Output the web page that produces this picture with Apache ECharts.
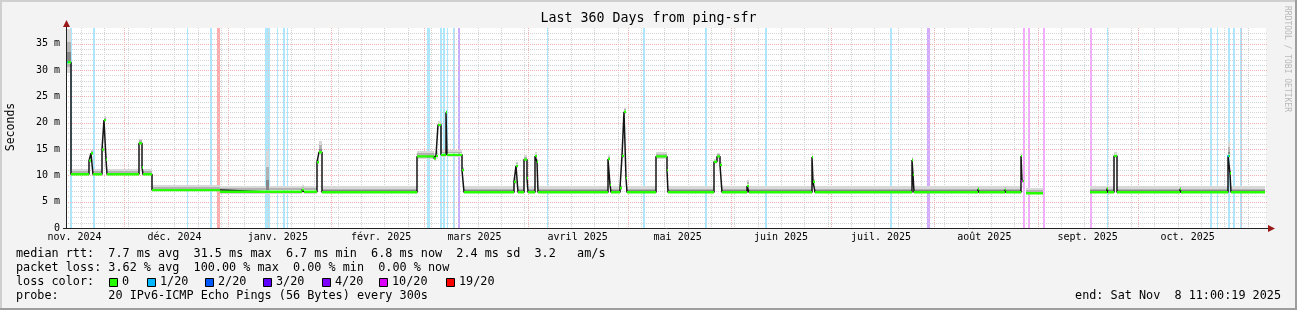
<!DOCTYPE html>
<html><head><meta charset="utf-8">
<script src="https://cdn.jsdelivr.net/npm/echarts@6/dist/echarts.min.js"></script>
<style>html,body{margin:0;padding:0;background:#f3f3f3}#c{width:1297px;height:310px}</style>
</head><body><div id="c"></div>
<script>
// ---------------- data (days since start of the 360-day window) ----------------
const titleText = 'Last 360 Days from ping-sfr';
const spanDays = 360;
const monthNames = ['nov. 2024','déc. 2024','janv. 2025','févr. 2025','mars 2025','avril 2025','mai 2025','juin 2025','juil. 2025','août 2025','sept. 2025','oct. 2025'];
const yTicks = [0,5,10,15,20,25,30,35];

// median rtt plateaus (ms): start day, median, smoke low, smoke high
const segStart  = [0.3,1.5,6.9,7.5,8.1,10.8,11.4,12.0,12.3,21.9,22.8,23.1,25.8,46.2,60.0,60.9,70.8,71.4,75.3,75.9,76.8,105.3,110.4,111.0,111.6,112.5,114.0,114.3,118.8,119.4,134.4,135.0,135.6,137.4,138.3,138.6,140.7,141.3,141.6,162.6,163.2,163.5,166.2,166.8,167.4,168.0,168.3,177.0,180.3,180.6,194.4,195.3,196.2,196.8,204.3,204.9,223.8,224.1,224.7,253.8,254.1,254.4,273.6,273.9,281.7,282.0,286.5,286.8,287.4,288.0,293.1,307.2,312.3,312.6,314.4,315.3,334.2,334.5,348.6,349.2,349.5];
const segMedian = [31.5,10.2,12.8,14.2,10.2,14.9,20.5,13.0,10.2,16.1,11.5,10.2,7.2,6.9,6.9,6.9,7.3,6.9,12.5,14.4,6.8,13.6,13.2,13.7,19.6,13.9,22.0,13.9,11.0,6.8,8.8,11.8,6.8,13.0,9.5,6.8,13.7,12.6,6.8,13.1,8.2,6.8,7.6,13.7,22.1,9.5,6.8,13.6,11.0,6.8,12.6,13.6,12.0,6.8,8.0,6.8,13.5,8.8,6.8,12.9,10.1,6.8,7.4,6.8,7.3,6.8,13.7,8.9,null,6.6,null,6.8,7.5,6.8,13.7,6.8,7.4,6.8,13.7,10.4,6.8];
const segLow    = [29.5,9.8,12.4,13.8,9.8,14.5,20.1,12.6,9.8,15.7,11.1,9.8,6.8,6.5,6.5,6.5,6.9,6.5,12.1,14.0,6.4,13.1,12.8,13.2,19.2,13.4,21.6,13.4,10.6,6.4,8.4,11.4,6.4,12.6,9.1,6.4,13.3,12.2,6.4,12.7,7.8,6.4,7.2,13.3,21.7,9.1,6.4,13.1,10.6,6.4,12.2,13.2,11.6,6.4,7.0,6.4,13.1,8.4,6.4,12.5,9.7,6.4,7.0,6.4,6.9,6.4,13.3,8.5,null,6.2,null,6.4,7.0,6.4,13.3,6.4,7.0,6.4,13.3,10.0,6.4];
const segHigh   = [37.8,11.2,13.4,14.9,11.2,15.5,21.2,13.6,11.2,17.0,12.2,11.2,8.2,7.9,14.6,7.9,8.1,7.9,13.2,16.6,7.9,14.6,14.2,14.6,20.3,14.8,22.5,14.8,11.6,7.9,9.6,12.6,7.9,13.8,10.2,7.9,14.4,13.2,7.9,13.8,8.8,7.9,8.2,14.3,22.8,10.1,7.9,14.4,11.6,7.9,13.2,14.3,12.6,7.9,9.2,7.9,14.2,9.4,7.9,13.5,10.6,7.9,8.0,7.9,8.0,7.9,14.3,9.4,null,7.6,null,7.9,8.1,7.9,14.4,7.9,8.0,7.9,16.4,11.0,7.9];
const dataEnd = 359.7;

// loss events (full-height bars): start day, end day, loss level index
const lossStart = [1.2,8.1,36.3,43.2,45.3,59.7,63.3,65.1,66.3,108.3,112.2,113.1,114.3,116.1,117.6,144.3,173.1,191.7,209.7,247.2,258.3,287.1,288.6,293.1,307.2,312.3,343.2,345.3,348.6,350.1,352.2];
const lossEnd   = [1.8,8.7,36.6,43.8,46.2,61.2,63.6,65.7,66.6,109.2,112.8,113.7,114.6,116.7,118.2,144.6,173.7,192.3,210.3,247.8,259.2,287.7,289.2,293.7,307.8,312.6,343.8,345.6,349.2,350.7,352.8];
const lossLevel = [1,1,1,1,6,1,1,1,1,1,1,1,1,1,3,1,1,1,1,1,4,5,5,5,5,1,1,1,1,1,1];

// loss coloured median marks
const markDay   = [0.3, 286.8, 348.6];
const markValue = [31.5, 8.9, 13.7];
const markLevel = [1, 5, 1];

const lossColors = ['#26ff00','#00b8ff','#0059ff','#5e00ff','#7e00ff','#dd00ff','#ff0000'];
const lossLabels = ['0','1/20','2/20','3/20','4/20','10/20','19/20'];

const statLines = [
  'median rtt:  7.7 ms avg  31.5 ms max  6.7 ms min  6.8 ms now  2.4 ms sd  3.2   am/s',
  'packet loss: 3.62 % avg  100.00 % max  0.00 % min  0.00 % now'
];
const probeText = 'probe:       20 IPv6-ICMP Echo Pings (56 Bytes) every 300s';
const endText = 'end: Sat Nov  8 11:00:19 2025';

// ---------------- calendar helpers (axis structure) ----------------
const startUTC = Date.UTC(2024,10,13,10,0,19);
const DAY = 86400000;
function localMidnightDay(y,m,d){
  const t = Date.UTC(y,m,d);
  const dst = t >= Date.UTC(2025,2,30) && t < Date.UTC(2025,9,26);
  return (t - (dst?2:1)*3600000 - startUTC)/DAY;
}
const monthStarts = [];
for(let k=0;k<=12;k++){ const y=2024+Math.floor((10+k)/12), m=(10+k)%12; monthStarts.push(localMidnightDay(y,m,1)); }
const monthMid = monthNames.map((n,i)=>monthStarts[i]+15);
const weekLines = [];
for(let t=Date.UTC(2024,10,18); ; t+=7*DAY){ const dt=new Date(t); const d=localMidnightDay(dt.getUTCFullYear(),dt.getUTCMonth(),dt.getUTCDate()); if(d>spanDays) break; weekLines.push(d); }

// grid lines: [kind, value] kind 0 minor vertical, 1 major vertical, 2 minor horiz, 3 major horiz
const gridData = [];
weekLines.forEach(d=>gridData.push([0,d]));
monthStarts.filter(d=>d>0&&d<spanDays).forEach(d=>gridData.push([1,d]));
for(let v=1; v<38; v++){ gridData.push([v%5===0?3:2, v]); }

// build series data from the segment arrays
const segData = [], stepData = [], greenData = [];
for(let i=0;i<segStart.length;i++){
  const end = i+1<segStart.length ? segStart[i+1] : dataEnd;
  if(segMedian[i]===null) continue;
  segData.push([segStart[i], end, segMedian[i], segLow[i], segHigh[i]]);
  stepData.push([segStart[i], segMedian[i]]);
  if(i+1>=segStart.length || segMedian[i+1]===null){ stepData.push([end, segMedian[i]]); stepData.push([end, null]); }
  greenData.push([segStart[i], segMedian[i]], [end, segMedian[i]], [end, null]);
}
const lossData = lossStart.map((s,i)=>[s, lossEnd[i], lossLevel[i]]);
const markData = markDay.map((d,i)=>({value:[d, markValue[i]], itemStyle:{color:lossColors[markLevel[i]]}}));

function alpha(hex,a){ const n=parseInt(hex.slice(1),16); return 'rgba('+(n>>16)+','+((n>>8)&255)+','+(n&255)+','+a+')'; }

const MONO = '"DejaVu Sans Mono", monospace';
const LEG = 11.8;
const chart = echarts.init(document.getElementById('c'), null, {renderer:'canvas'});

const graphics = [
  {type:'rect', shape:{x:0,y:0,width:1297,height:2}, style:{fill:'#cfcfcf'}, silent:true},
  {type:'rect', shape:{x:0,y:0,width:2,height:310}, style:{fill:'#cfcfcf'}, silent:true},
  {type:'rect', shape:{x:0,y:308,width:1297,height:2}, style:{fill:'#9e9e9e'}, silent:true},
  {type:'rect', shape:{x:1295,y:0,width:2,height:310}, style:{fill:'#9e9e9e'}, silent:true},
  {type:'line', shape:{x1:66.5,y1:228.5,x2:66.5,y2:24}, style:{stroke:'#222',lineWidth:1}, z:50},
  {type:'line', shape:{x1:63,y1:228.5,x2:1270,y2:228.5}, style:{stroke:'#222',lineWidth:1}, z:50},
  {type:'polygon', shape:{points:[[63,27],[70,27],[66.5,20]]}, style:{fill:'#9a1a1a'}, z:50},
  {type:'polygon', shape:{points:[[1268,225],[1268,232],[1275,228.5]]}, style:{fill:'#9a1a1a'}, z:50},
  {type:'text', x:11, y:127, rotation:Math.PI/2, style:{text:'Seconds', fontFamily:MONO, fontSize:11.5, fill:'#000', align:'center', verticalAlign:'middle'}},
  {type:'text', x:1287, y:59, rotation:-Math.PI/2, style:{text:'RRDTOOL / TOBI OETIKER', fontFamily:MONO, fontSize:8, fill:'#b8b8b8', align:'center', verticalAlign:'middle'}},
  {type:'text', x:16, y:254, style:{text:statLines[0], fontFamily:MONO, fontSize:LEG, fill:'#000', verticalAlign:'middle'}},
  {type:'text', x:16, y:268, style:{text:statLines[1], fontFamily:MONO, fontSize:LEG, fill:'#000', verticalAlign:'middle'}},
  {type:'text', x:16, y:282, style:{text:'loss color:', fontFamily:MONO, fontSize:LEG, fill:'#000', verticalAlign:'middle'}},
  {type:'text', x:16, y:296, style:{text:probeText, fontFamily:MONO, fontSize:LEG, fill:'#000', verticalAlign:'middle'}},
  {type:'text', x:1281, y:296, style:{text:endText, fontFamily:MONO, fontSize:LEG, fill:'#000', align:'right', verticalAlign:'middle'}}
];
const swatchX = [109,147,205,263,322,379,446];
lossLabels.forEach((lab,i)=>{
  graphics.push({type:'rect', shape:{x:swatchX[i]+0.5,y:278.5,width:8,height:8}, style:{fill:lossColors[i], stroke:'#000', lineWidth:1}});
  graphics.push({type:'text', x:swatchX[i]+13, y:282, style:{text:lab, fontFamily:MONO, fontSize:LEG, fill:'#000', verticalAlign:'middle'}});
});

// smoke drawn as disjoint bands that leave the median band free
function renderSmoke(p, api){
  const s=api.value(0), e=api.value(1), m=api.value(2), lo=api.value(3), hi=api.value(4);
  const xa=Math.round(api.coord([s,0])[0]); const xb=Math.max(xa+1,Math.round(api.coord([e,0])[0]));
  const Y=(v)=>Math.round(api.coord([s,v])[1]);
  const ymf=api.coord([s,m])[1];
  const topEnd=Math.floor(ymf-1), botStart=Math.ceil(ymf+1);
  const yHi=Y(hi), yMidTop=Y(m+(hi-m)*0.62), yInTop=Y(m+(hi-m)*0.3), yMidLo=Y(m-(m-lo)*0.5), yLo=Y(lo);
  const kids=[];
  const band=(y1,y2,c)=>{ if(y2>y1) kids.push({type:'rect', shape:{x:xa,y:y1,width:xb-xa,height:y2-y1}, style:{fill:c}}); };
  const b=Math.min(yMidTop,topEnd), c=Math.min(yInTop,topEnd);
  band(yHi,b,'#d8d8d8');
  band(b,c,'#b2b2b2');
  band(c,topEnd,'#878787');
  const f=Math.max(yMidLo,botStart), g=Math.max(yLo,botStart);
  band(botStart,f,'#b2b2b2');
  band(f,g,'#d8d8d8');
  return {type:'group', children:kids};
}

chart.setOption({
  animation:false,
  backgroundColor:'#f3f3f3',
  title:{text:titleText, left:'center', top:12, padding:0, textStyle:{fontFamily:MONO, fontSize:13.3, fontWeight:'normal', color:'#000', lineHeight:14}},
  grid:{left:66, top:28, width:1200, height:200, show:true, backgroundColor:'#ffffff', borderWidth:0},
  xAxis:{type:'value', min:0, max:spanDays, axisLine:{show:false}, axisTick:{show:false}, splitLine:{show:false},
    axisLabel:{customValues:monthMid, margin:4, fontFamily:MONO, fontSize:10, color:'#000',
      formatter:(v)=>{ let bi=0,bd=1e9; monthMid.forEach((m,i)=>{const dd=Math.abs(m-v); if(dd<bd){bd=dd;bi=i;}}); return monthNames[bi]; }}},
  yAxis:{type:'value', min:0, max:38, interval:5, axisLine:{show:false}, axisTick:{show:false}, splitLine:{show:false},
    axisLabel:{customValues:yTicks, margin:6, fontFamily:MONO, fontSize:10, color:'#000', formatter:(v)=> v===0?'0':(v+' m')}},
  graphic:graphics,
  series:[
    {type:'custom', z:1, silent:true, data:lossData,
      renderItem:(p,api)=>{ const cs=p.coordSys; const x1=Math.round(api.coord([api.value(0),0])[0]); const x2=Math.round(api.coord([api.value(1),0])[0]);
        return {type:'rect', shape:{x:x1,y:cs.y,width:Math.max(1,x2-x1),height:cs.height}, style:{fill:alpha(lossColors[api.value(2)],0.33)}}; }},
    {type:'custom', z:2, silent:true, data:gridData,
      renderItem:(p,api)=>{ const cs=p.coordSys; const k=api.value(0), v=api.value(1); let shape;
        if(k<2){ const x=Math.round(api.coord([v,0])[0])+0.5; shape={x1:x,y1:cs.y,x2:x,y2:cs.y+cs.height}; }
        else { const y=Math.round(api.coord([0,v])[1])+0.5; shape={x1:cs.x,y1:y,x2:cs.x+cs.width+1,y2:y}; }
        return {type:'line', shape, style:{stroke:(k%2)?'#eeb0b0':'#d4d4d4', lineWidth:1, lineDash:[1,1]}}; }},
    {type:'custom', z:3, silent:true, data:segData, renderItem:renderSmoke},
    {type:'line', z:4, step:'end', data:stepData, symbol:'none', silent:true, connectNulls:false,
      lineStyle:{color:'#151515', width:1.5}},
    {type:'line', z:5, data:greenData, symbol:'none', silent:true, connectNulls:false,
      lineStyle:{color:lossColors[0], width:2.4, cap:'butt'}},
    {type:'scatter', z:6, data:markData, symbol:'rect', symbolSize:[2,2], silent:true}
  ]
});
</script></body></html>
